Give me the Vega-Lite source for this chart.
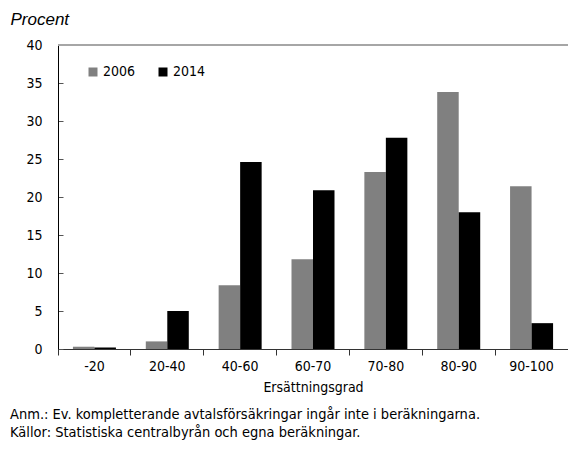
{
  "$schema": "https://vega.github.io/schema/vega-lite/v6.json",
  "width": 510,
  "height": 304,
  "autosize": {"type": "none"},
  "padding": {"left": 58, "top": 45, "right": 0, "bottom": 107},
  "config": {
    "font": "DejaVu Sans Condensed, Liberation Sans Narrow, sans-serif",
    "view": {"stroke": null}
  },
  "data": {
    "values": [
      {"grad": "-20", "year": "2006", "value": 0.3},
      {"grad": "-20", "year": "2014", "value": 0.2},
      {"grad": "20-40", "year": "2006", "value": 1.0},
      {"grad": "20-40", "year": "2014", "value": 5.0},
      {"grad": "40-60", "year": "2006", "value": 8.4},
      {"grad": "40-60", "year": "2014", "value": 24.6},
      {"grad": "60-70", "year": "2006", "value": 11.8},
      {"grad": "60-70", "year": "2014", "value": 20.9},
      {"grad": "70-80", "year": "2006", "value": 23.3},
      {"grad": "70-80", "year": "2014", "value": 27.8},
      {"grad": "80-90", "year": "2006", "value": 33.8},
      {"grad": "80-90", "year": "2014", "value": 18.0},
      {"grad": "90-100", "year": "2006", "value": 21.4},
      {"grad": "90-100", "year": "2014", "value": 3.4}
    ]
  },
  "title": {
    "text": ["Anm.: Ev. kompletterande avtalsförsäkringar ingår inte i beräkningarna.", "Källor: Statistiska centralbyrån och egna beräkningar."],
    "orient": "bottom",
    "anchor": "start",
    "frame": "group",
    "dx": -48,
    "offset": 14,
    "fontSize": 14.5,
    "fontWeight": "normal",
    "font": "DejaVu Sans Condensed, Liberation Sans Narrow, sans-serif",
    "lineHeight": 18,
    "color": "black"
  },
  "resolve": {"axis": {"y": "independent"}},
  "layer": [
    {
      "mark": {"type": "bar"},
      "encoding": {
        "x": {
          "field": "grad",
          "type": "nominal",
          "sort": ["-20", "20-40", "40-60", "60-70", "70-80", "80-90", "90-100"],
          "scale": {"paddingInner": 0, "paddingOuter": 0},
          "axis": {
            "title": "Ersättningsgrad",
            "titleFontSize": 14,
            "titleFontWeight": "normal",
            "titleColor": "black",
            "titlePadding": 7,
            "labelAngle": 0,
            "labelFontSize": 14,
            "labelColor": "black",
            "labelPadding": 4,
            "bandPosition": 0,
            "tickSize": 6,
            "tickColor": "#333333",
            "domainColor": "#333333",
            "grid": false
          }
        },
        "xOffset": {
          "field": "year",
          "type": "nominal",
          "scale": {"paddingInner": 0, "paddingOuter": 0.694}
        },
        "y": {
          "field": "value",
          "type": "quantitative",
          "scale": {"domain": [0, 40]},
          "axis": {
            "values": [0, 5, 10, 15, 20, 25, 30, 35, 40],
            "title": "Procent",
            "titleAngle": 0,
            "titleAlign": "left",
            "titleBaseline": "alphabetic",
            "titleX": -48,
            "titleY": -21,
            "titleFont": "Liberation Sans",
            "titleFontStyle": "italic",
            "titleFontWeight": "normal",
            "titleFontSize": 17,
            "titleColor": "black",
            "labelOverlap": false,
            "labelFontSize": 14,
            "labelColor": "black",
            "tickSize": -5,
            "labelPadding": 21,
            "tickColor": "#555555",
            "domainColor": "black",
            "grid": false
          }
        },
        "color": {
          "field": "year",
          "type": "nominal",
          "scale": {"range": ["#808080", "#000000"]},
          "legend": {
            "title": null,
            "orient": "none",
            "legendX": 28,
            "legendY": 20,
            "direction": "horizontal",
            "symbolType": "square",
            "symbolSize": 81,
            "symbolStrokeWidth": 0,
            "labelFontSize": 14,
            "labelColor": "black",
            "labelOffset": 3,
            "columnPadding": 20
          }
        }
      }
    },
    {
      "mark": {"type": "rule", "color": "#a6a6a6", "strokeWidth": 2},
      "encoding": {"y": {"datum": 40, "axis": null}}
    }
  ]
}
